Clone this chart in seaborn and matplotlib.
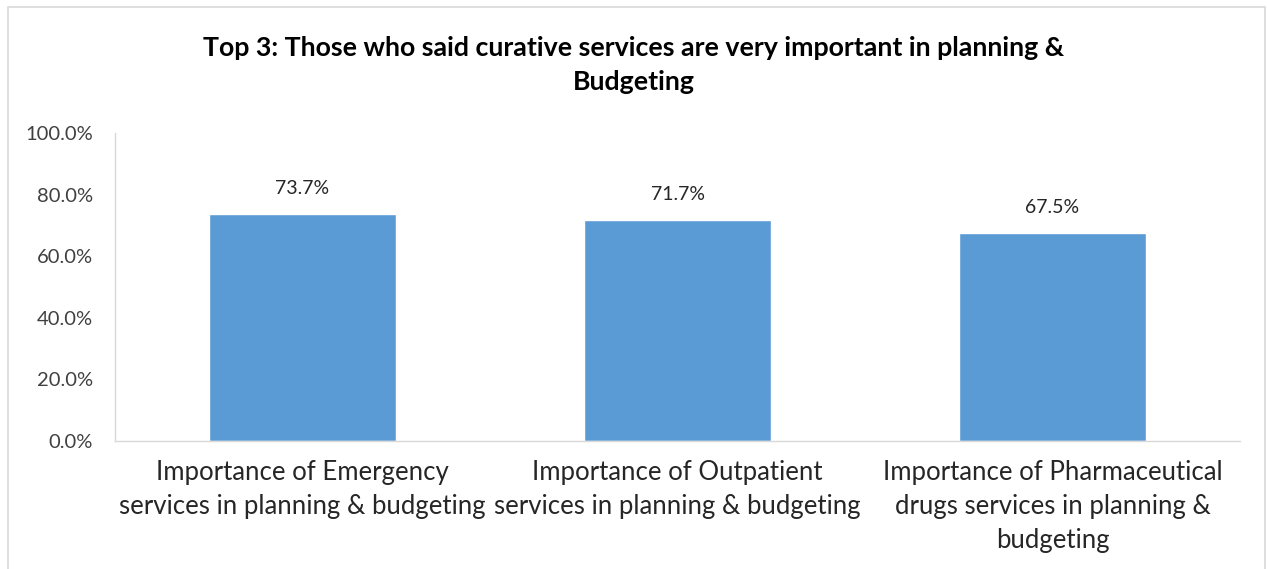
import matplotlib
matplotlib.use("Agg")
import matplotlib.pyplot as plt
from matplotlib.patches import Rectangle
from matplotlib.ticker import FuncFormatter, MultipleLocator
import seaborn as sns
import pandas as pd

categories = [
    "Importance of Emergency\nservices in planning & budgeting",
    "Importance of Outpatient\nservices in planning & budgeting",
    "Importance of Pharmaceutical\ndrugs services in planning &\nbudgeting",
]
values = [73.7, 71.7, 67.5]
title = "Top 3: Those who said curative services are very important in planning &\nBudgeting"

sns.set_theme(style="white")
plt.rcParams["font.family"] = ["Lato", "DejaVu Sans"]

W, H = 1267, 569
fig = plt.figure(figsize=(W / 100, H / 100), dpi=100)
fig.patch.set_facecolor("white")
ax = fig.add_axes([115 / W, 1 - 441 / H, (1240 - 115) / W, (441 - 133) / H])

df = pd.DataFrame({"category": categories, "value": values})
sns.barplot(data=df, x="category", y="value", color="#5B9BD5", width=0.5,
            saturation=1, ax=ax)

ax.set_ylim(0, 100)
ax.yaxis.set_major_locator(MultipleLocator(20))
ax.yaxis.set_major_formatter(FuncFormatter(lambda v, _: f"{v:.1f}%"))
ax.set_xlabel("")
ax.set_ylabel("")
ax.tick_params(axis="y", labelsize=14.5, labelcolor="#404040", length=0, pad=16)
ax.tick_params(axis="x", labelsize=18.5, labelcolor="#262626", length=0, pad=14)
for lbl in ax.get_xticklabels():
    lbl.set_linespacing(1.45)

for side in ["top", "right"]:
    ax.spines[side].set_visible(False)
for side in ["left", "bottom"]:
    ax.spines[side].set_color("#d9d9d9")
    ax.spines[side].set_linewidth(1)

for container in ax.containers:
    ax.bar_label(container, labels=[f"{v:.1f}%" for v in values], padding=12,
                 fontsize=14, color="#262626")

fig.text(0.5, 1 - 65 / H, title, ha="center", va="center", fontsize=19.3,
         fontweight="bold", color="#000000", linespacing=1.45)

fig.patches.append(Rectangle((8 / W, -0.02), (1265 - 8) / W, 1.02 - 7 / H,
                             transform=fig.transFigure, fill=False,
                             edgecolor="#d9d9d9", linewidth=1.2))

fig.savefig("out.png", dpi=100, facecolor="white")
